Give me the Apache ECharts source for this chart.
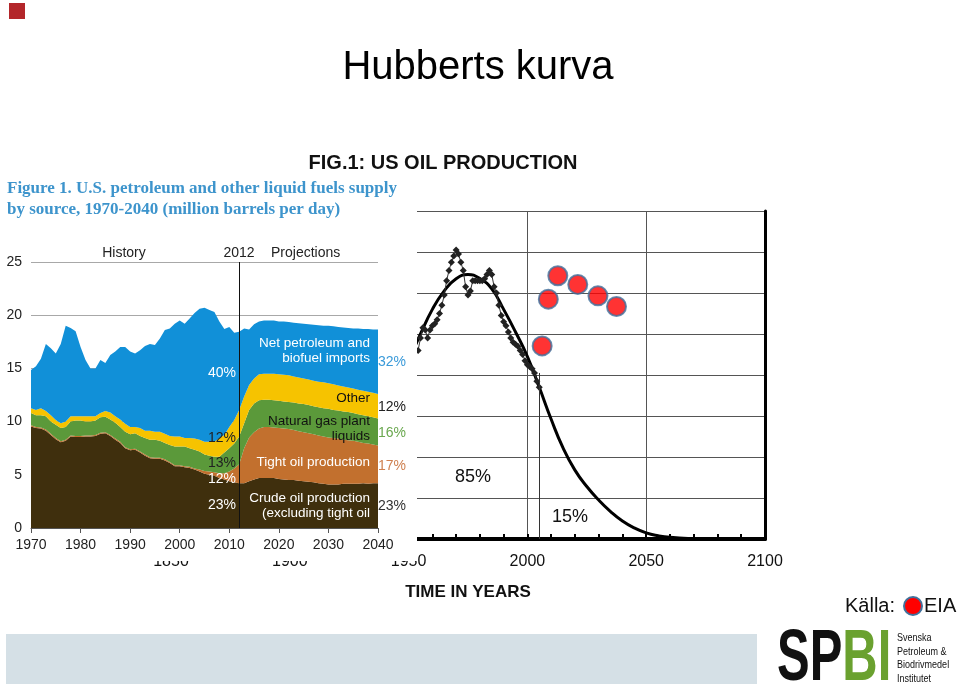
<!DOCTYPE html>
<html><head><meta charset="utf-8">
<script src="https://cdn.jsdelivr.net/npm/echarts@6/dist/echarts.min.js"></script>
<style>html,body{margin:0;padding:0;background:#fff}#c{width:959px;height:686px}</style>
</head><body><div id="c"></div>
<script>
// ---- Left chart: EIA Figure 1 (million barrels per day) ----
const years = [1970,1971,1972,1973,1974,1975,1976,1977,1978,1979,
  1980,1981,1982,1983,1984,1985,1986,1987,1988,1989,
  1990,1991,1992,1993,1994,1995,1996,1997,1998,1999,
  2000,2001,2002,2003,2004,2005,2006,2007,2008,2009,
  2010,2011,2012,2013,2014,2015,2016,2017,2018,2019,
  2020,2021,2022,2023,2024,2025,2026,2027,2028,2029,
  2030,2031,2032,2033,2034,2035,2036,2037,2038,2039,2040];
const crude = [9.55,9.4,9.35,9.15,8.75,8.35,8.05,8.2,8.6,8.55,
  8.55,8.6,8.6,8.65,8.85,8.9,8.65,8.3,8.0,7.5,
  7.3,7.35,7.1,6.8,6.55,6.5,6.5,6.35,6.1,5.8,
  5.8,5.7,5.65,5.5,5.3,5.1,5.0,4.9,4.7,4.55,
  4.4,4.3,4.2,4.2,4.4,4.55,4.7,4.7,4.7,4.7,
  4.6,4.55,4.5,4.5,4.45,4.4,4.35,4.3,4.2,4.15,
  4.1,4.1,4.1,4.15,4.15,4.15,4.15,4.2,4.15,4.2,4.2];
const tightOil = [0.1,0.1,0.1,0.1,0.1,0.1,0.1,0.1,0.1,0.1,
  0.1,0.1,0.1,0.1,0.1,0.1,0.1,0.1,0.1,0.1,
  0.1,0.1,0.1,0.1,0.1,0.1,0.1,0.1,0.1,0.1,
  0.1,0.1,0.1,0.1,0.2,0.25,0.3,0.35,0.45,0.6,
  0.9,1.3,1.8,3.3,4.1,4.45,4.65,4.8,4.8,4.75,
  4.8,4.8,4.8,4.7,4.65,4.6,4.55,4.5,4.5,4.45,
  4.4,4.35,4.3,4.15,4.1,4.05,3.95,3.8,3.8,3.65,3.55];
const ngpl = [1.15,1.1,1.15,1.25,1.15,1.25,1.25,1.2,1.3,1.45,
  1.45,1.3,1.3,1.35,1.45,1.45,1.45,1.5,1.4,1.45,
  1.4,1.45,1.45,1.55,1.65,1.7,1.6,1.55,1.6,1.75,
  1.75,1.85,1.75,1.75,1.7,1.55,1.5,1.45,1.55,1.95,
  2.2,2.35,2.6,2.35,2.6,2.7,2.65,2.55,2.55,2.55,
  2.55,2.55,2.55,2.6,2.6,2.65,2.65,2.65,2.65,2.65,
  2.7,2.65,2.65,2.65,2.65,2.6,2.6,2.6,2.55,2.55,2.55];
const other = [0.45,0.5,0.65,0.5,0.6,0.45,0.45,0.5,0.5,0.4,
  0.4,0.5,0.5,0.4,0.4,0.55,0.65,0.6,0.7,0.75,
  0.7,0.6,0.75,0.7,0.85,0.75,0.85,0.85,0.85,0.95,
  0.95,0.8,0.95,1.05,1.1,1.2,1.3,1.4,1.75,1.65,
  2.0,2.2,2.5,2.5,2.35,2.35,2.45,2.45,2.45,2.5,
  2.5,2.5,2.5,2.45,2.45,2.4,2.4,2.4,2.4,2.45,
  2.4,2.4,2.35,2.35,2.3,2.3,2.3,2.3,2.3,2.3,2.3];
const imports = [3.6,4.1,4.65,6.3,6.3,6.25,7.45,9.0,8.3,8.0,
  6.5,5.3,4.5,4.5,5.0,4.5,5.4,6.1,6.8,7.2,
  7.1,6.9,7.3,7.95,8.15,8.15,8.75,9.75,10.1,10.6,
  10.9,10.75,11.25,11.8,12.3,12.6,12.4,12.2,10.95,9.95,
  9.4,8.2,7.35,6.4,5.2,5.1,4.95,5.0,5.0,5.0,
  4.95,5.0,5.0,5.05,5.1,5.15,5.2,5.25,5.3,5.3,
  5.4,5.45,5.5,5.55,5.6,5.65,5.75,5.8,5.9,5.95,6.05];
const splitYear = 2012;

// ---- Right chart: Hubbert curve (FIG.1 US OIL PRODUCTION) ----
const hubbertYears = [1950,1955,1960,1965,1970,1975,1980,1985,1990,1995,2000,2005,2010,2015,2020,2025,2030,2035,2040,2045,2050,2055,2060,2070,2080,2100];
const hubbertVals  = [4.35,5.0,5.6,6.05,6.35,6.45,6.35,6.1,5.6,5.05,4.45,3.7,2.92,2.22,1.68,1.28,0.95,0.67,0.44,0.27,0.15,0.08,0.04,0.01,0.0,0.0];
const prodYears = [1954,1955,1956,1957,1958,1959,1960,1961,1962,1963,1964,1965,1966,1967,1968,1969,
  1970,1971,1972,1973,1974,1975,1976,1977,1978,1979,1980,1981,1982,1983,1984,1985,1986,1987,1988,1989,
  1990,1991,1992,1993,1994,1995,1996,1997,1998,1999,2000,2001,2002,2003,2004,2005];
const prodVals = [4.6,4.9,5.15,5.1,4.9,5.1,5.2,5.25,5.35,5.5,5.7,5.95,6.3,6.55,6.75,6.9,
  7.05,6.95,6.75,6.55,6.15,5.95,6.05,6.3,6.3,6.3,6.3,6.3,6.35,6.45,6.55,6.45,6.15,6.0,5.7,5.45,
  5.3,5.2,5.05,4.9,4.8,4.75,4.7,4.6,4.5,4.35,4.25,4.2,4.15,4.05,3.85,3.7];
const eiaYears = [2006.2,2008.8,2012.8,2021.2,2029.7,2037.5];
const eiaVals  = [4.71,5.85,6.42,6.21,5.93,5.67];
const nowYear = 2005, nowTop = 4.05;

const pair = (xs, ys) => xs.map((x, i) => [x, ys[i]]);
const yearCats = years.map(String);
const LZ = 20;
function area(name, vals, color) {
  return {
    name, type: 'line', xAxisIndex: 0, yAxisIndex: 0, stack: 'liq', z: LZ,
    data: vals, showSymbol: false, symbol: 'none', smooth: false,
    lineStyle: { width: 0 }, areaStyle: { color, opacity: 1 }, itemStyle: { color }
  };
}
const sans = "'Liberation Sans', Arial, sans-serif";
const narrow = "'Liberation Sans Narrow', sans-serif";
function txt(x, y, s, size, fill, align, extra) {
  extra = extra || {};
  const el = {
    type: 'text', x, y, z: 30,
    style: { text: s, font: (extra.weight ? extra.weight + ' ' : '') + size + 'px ' + (extra.family || sans),
      fill, align: align || 'left', textAlign: align || 'left', verticalAlign: 'middle', textVerticalAlign: 'middle' }
  };
  if (extra.scaleX) el.scaleX = extra.scaleX;
  return el;
}
const decade = (idx, val) => Number(val) % 10 === 0;

const chart = echarts.init(document.getElementById('c'), null, { renderer: 'canvas' });
const areaSeries = [
  area('Crude oil production', crude, '#3f2f0d'),
  area('Tight oil production', tightOil, '#c2702e'),
  area('Natural gas plant liquids', ngpl, '#5b993a'),
  area('Other', other, '#f6c300'),
  area('Net petroleum and biofuel imports', imports, '#1190d8')
];
areaSeries[4].markLine = {
  z: 25, silent: true, symbol: 'none', label: { show: false },
  lineStyle: { color: '#111', width: 1, type: 'solid' },
  data: [{ xAxis: String(splitYear) }]
};

chart.setOption({
  animation: false,
  backgroundColor: '#fff',
  grid: [
    { left: 31, right: 959 - 378, top: 262, bottom: 686 - 528, z: LZ },
    { left: 171, right: 959 - 765, top: 211, bottom: 686 - 539 }
  ],
  xAxis: [
    { type: 'category', gridIndex: 0, data: yearCats, boundaryGap: false, z: LZ,
      axisLine: { show: true, lineStyle: { color: '#555', width: 1 } },
      axisTick: { show: true, length: 5, interval: decade, lineStyle: { color: '#555' } },
      axisLabel: { color: '#222', fontSize: 14, fontFamily: sans, margin: 10, interval: decade },
      splitLine: { show: false } },
    { type: 'value', gridIndex: 1, min: 1850, max: 2100, interval: 50,
      axisLine: { show: true, onZero: false, lineStyle: { color: '#000', width: 4 } },
      axisTick: { show: true, inside: true, length: 5, lineStyle: { color: '#000', width: 2 } },
      minorTick: { show: true, splitNumber: 5, length: 5, lineStyle: { color: '#000', width: 2 } },
      axisLabel: { color: '#111', fontSize: 16, fontFamily: sans, margin: 15,
        formatter: v => String(v) },
      splitLine: { show: true, lineStyle: { color: '#555', width: 1 } },
      name: 'TIME IN YEARS', nameLocation: 'middle', nameGap: 45,
      nameTextStyle: { fontSize: 17, fontWeight: 'bold', fontFamily: sans, color: '#111' } },
    { type: 'value', gridIndex: 1, min: 1850, max: 2100, position: 'top',
      axisLine: { show: true, lineStyle: { color: '#000', width: 3 } },
      axisTick: { show: false }, axisLabel: { show: false }, splitLine: { show: false } }
  ],
  yAxis: [
    { type: 'value', gridIndex: 0, min: 0, max: 25, interval: 5, z: LZ,
      axisLine: { show: false }, axisTick: { show: false },
      axisLabel: { color: '#222', fontSize: 14, fontFamily: sans, margin: 9 },
      splitLine: { show: true, lineStyle: { color: '#a8a8a8', width: 1 } } },
    { type: 'value', gridIndex: 1, min: 0, max: 8, interval: 1, position: 'right',
      axisLine: { show: true, lineStyle: { color: '#000', width: 3 } },
      axisTick: { show: false }, axisLabel: { show: false },
      splitLine: { show: true, lineStyle: { color: '#555', width: 1 } } }
  ],
  series: [
    { name: 'Hubbert', type: 'line', xAxisIndex: 1, yAxisIndex: 1, z: 3,
      data: pair(hubbertYears, hubbertVals), smooth: 0.5, symbol: 'none',
      lineStyle: { color: '#000', width: 3 },
      markLine: { silent: true, symbol: 'none', label: { show: false },
        lineStyle: { color: '#333', width: 1, type: 'solid' },
        data: [[{ coord: [nowYear, 0] }, { coord: [nowYear, nowTop] }]] } },
    { name: 'Production', type: 'line', xAxisIndex: 1, yAxisIndex: 1, z: 4,
      data: pair(prodYears, prodVals), symbol: 'diamond', symbolSize: 7,
      itemStyle: { color: '#222' }, lineStyle: { color: '#333', width: 1 } },
    { name: 'EIA', type: 'scatter', xAxisIndex: 1, yAxisIndex: 1, z: 6,
      data: pair(eiaYears, eiaVals), symbolSize: 19,
      itemStyle: { color: '#ff0000', borderColor: '#41719c', borderWidth: 2 } },
    ...areaSeries
  ],
  graphic: [
    { type: 'rect', z: 10, shape: { x: 0, y: 176, width: 417, height: 385 }, style: { fill: '#fff' } },
    { type: 'rect', z: 30, shape: { x: 9, y: 3, width: 16, height: 16 }, style: { fill: '#b3262a' } },
    txt(478, 68, 'Hubberts kurva', 40, '#000', 'center'),
    txt(443, 163, 'FIG.1: US OIL PRODUCTION', 20, '#111', 'center', { weight: 'bold' }),
    txt(7, 189, 'Figure 1. U.S. petroleum and other liquid fuels supply', 17, '#3d94cc', 'left', { weight: 'bold', family: "'Liberation Serif', 'Times New Roman', serif" }),
    txt(7, 210, 'by source, 1970-2040 (million barrels per day)', 17, '#3d94cc', 'left', { weight: 'bold', family: "'Liberation Serif', 'Times New Roman', serif" }),
    txt(124, 253, 'History', 14, '#222', 'center'),
    txt(239, 253, '2012', 14, '#222', 'center'),
    txt(271, 253, 'Projections', 14, '#222', 'left'),
    txt(370, 343, 'Net petroleum and', 13.5, '#fff', 'right'),
    txt(370, 358, 'biofuel imports', 13.5, '#fff', 'right'),
    txt(370, 398, 'Other', 13.5, '#111', 'right'),
    txt(370, 421, 'Natural gas plant', 13.5, '#111', 'right'),
    txt(370, 436, 'liquids', 13.5, '#111', 'right'),
    txt(370, 462, 'Tight oil production', 13.5, '#fff', 'right'),
    txt(370, 498, 'Crude oil production', 13.5, '#fff', 'right'),
    txt(370, 513, '(excluding tight oil', 13.5, '#fff', 'right'),
    txt(378, 362, '32%', 14, '#3a9ad9', 'left'),
    txt(378, 407, '12%', 14, '#222', 'left'),
    txt(378, 433, '16%', 14, '#6aa84f', 'left'),
    txt(378, 466, '17%', 14, '#cf8050', 'left'),
    txt(378, 506, '23%', 14, '#333', 'left'),
    txt(236, 373, '40%', 14, '#fff', 'right'),
    txt(236, 438, '12%', 14, '#222', 'right'),
    txt(236, 463, '13%', 14, '#222', 'right'),
    txt(236, 479, '12%', 14, '#fff', 'right'),
    txt(236, 505, '23%', 14, '#fff', 'right'),
    txt(473, 477, '85%', 18, '#111', 'center'),
    txt(570, 517, '15%', 18, '#111', 'center'),
    { type: 'rect', z: 1, shape: { x: 6, y: 634, width: 751, height: 50 }, style: { fill: '#d5e0e6' } },
    txt(845, 606, 'Källa:', 20, '#111', 'left'),
    { type: 'circle', z: 30, shape: { cx: 913, cy: 606, r: 9 }, style: { fill: '#ff0000', stroke: '#41719c', lineWidth: 2 } },
    txt(924, 606, 'EIA', 20, '#111', 'left'),
    { type: 'text', z: 30, x: 777, y: 660, scaleX: 0.68, scaleY: 1,
      style: { text: '{a|SP}{b|BI}', verticalAlign: 'middle', textVerticalAlign: 'middle',
        rich: { a: { font: "bold 72px " + narrow, fill: '#111' },
                b: { font: "bold 72px " + narrow, fill: '#6aa12f' } } } },
    txt(897, 638, 'Svenska', 11, '#111', 'left', { family: narrow, scaleX: 0.82 }),
    txt(897, 652, 'Petroleum &', 11, '#111', 'left', { family: narrow, scaleX: 0.82 }),
    txt(897, 665, 'Biodrivmedel', 11, '#111', 'left', { family: narrow, scaleX: 0.82 }),
    txt(897, 679, 'Institutet', 11, '#111', 'left', { family: narrow, scaleX: 0.82 })
  ]
});
</script>
</body></html>
